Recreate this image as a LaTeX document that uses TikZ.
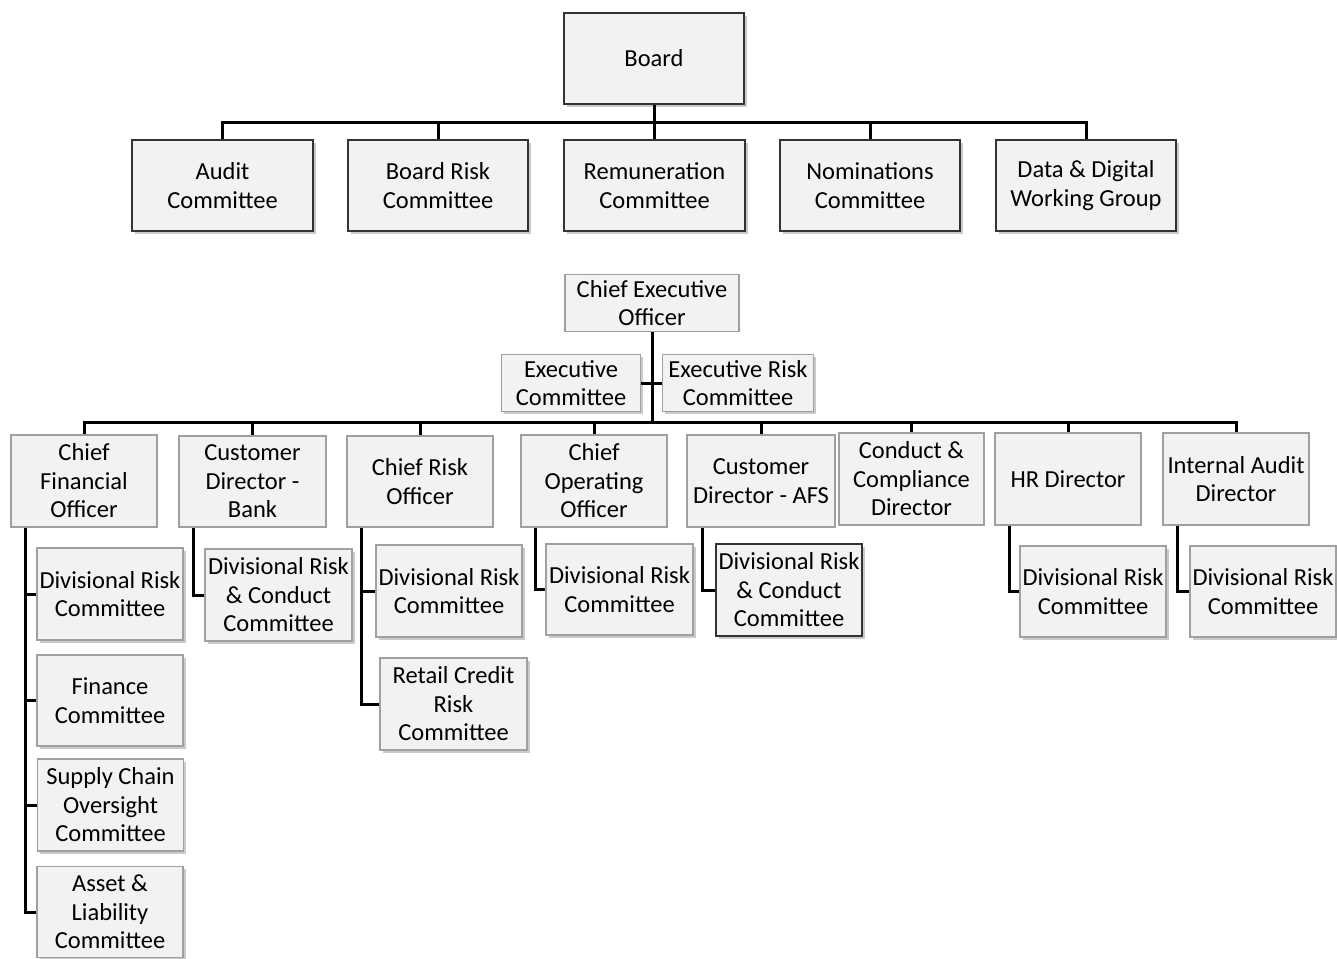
\documentclass[tikz,border=0pt]{standalone}
\usepackage{fontspec}
\setmainfont{Carlito}
\usetikzlibrary{shadows}
\definecolor{boxfill}{HTML}{F2F2F2}
\definecolor{thinline}{HTML}{A0A0A0}
\definecolor{thickline}{HTML}{333333}
\tikzset{
  basebox/.style={fill=boxfill, align=center, inner sep=0pt, font=\fontsize{24.5}{28.5}\selectfont, text=black},
  thinbox/.style={basebox, draw=thinline, line width=1.2pt},
  shbox/.style={thinbox, drop shadow={shadow xshift=2.5pt, shadow yshift=-2.5pt, opacity=0.35, fill=black!60}},
  thickbox/.style={basebox, draw=thickline, line width=2.6pt, drop shadow={shadow xshift=3pt, shadow yshift=-3pt, opacity=0.35, fill=black!60}},
  link/.style={draw=black, line width=3pt},
}
\newcommand{\bx}[6]{\node[#1, minimum width=#4pt, minimum height=#5pt] (#2) at (#3) {#6};}
\begin{document}
\begin{tikzpicture}[x=1pt,y=-1pt]
\useasboundingbox (0,0) rectangle (1337,958);
% top
\bx{thickbox}{board}{654,58.5}{180}{91}{Board}
\bx{thickbox}{audit}{222.5,185.5}{181}{91}{Audit\\Committee}
\bx{thickbox}{brc}{438,185.5}{180}{91}{Board Risk\\Committee}
\bx{thickbox}{rem}{654.5,185.5}{181}{91}{Remuneration\\Committee}
\bx{thickbox}{nom}{870,185.5}{180}{91}{Nominations\\Committee}
\bx{thickbox}{ddw}{1086,185.5}{180}{91}{Data \& Digital\\Working Group}
\coordinate (tb) at (654,122);
\draw[link] (board.south) -- (tb);
\draw[link] (audit.north) -- (audit.north |- tb) -- (ddw.north |- tb) -- (ddw.north);
\foreach \n in {brc,rem,nom} \draw[link] (\n.north) -- (\n.north |- tb);
% CEO
\bx{thinbox}{ceo}{652,303}{174}{57}{Chief Executive\\Officer}
\bx{shbox}{exco}{571,383}{139}{57}{Executive\\Committee}
\bx{shbox}{erc}{738,383}{151}{57}{Executive Risk\\Committee}
\coordinate (mb) at (652,422);
\draw[link] (ceo.south) -- (mb);
\draw[link] (exco.east) -- (erc.west);
% level 2
\bx{thinbox}{cfo}{84,481}{146}{92}{Chief\\Financial\\Officer}
\bx{thinbox}{cdb}{252.5,481.5}{147}{91}{Customer\\Director -\\Bank}
\bx{thinbox}{cro}{420,481.5}{146}{91}{Chief Risk\\Officer}
\bx{thinbox}{coo}{594,481}{146}{92}{Chief\\Operating\\Officer}
\bx{thinbox}{afs}{761,481}{148}{92}{Customer\\Director - AFS}
\bx{thinbox}{ccd}{911.5,479}{145}{92}{Conduct \&\\Compliance\\Director}
\bx{thinbox}{hr}{1068,479}{146}{92}{HR Director}
\bx{thinbox}{iad}{1236,479}{146}{92}{Internal Audit\\Director}
\draw[link] (cfo.north) -- (cfo.north |- mb) -- (iad.north |- mb) -- (iad.north);
\foreach \n in {cdb,cro,coo,afs,ccd,hr} \draw[link] (\n.north) -- (\n.north |- mb);
% children
\bx{shbox}{cfoa}{110,594}{146}{92}{Divisional Risk\\Committee}
\bx{shbox}{cfob}{110,700.5}{146}{91}{Finance\\Committee}
\bx{shbox}{cfoc}{110.5,805}{146}{92}{Supply Chain\\Oversight\\Committee}
\bx{shbox}{cfod}{110,912}{146}{91}{Asset \&\\Liability\\Committee}
\bx{shbox}{cdba}{278.5,595}{147}{92}{Divisional Risk\\\& Conduct\\Committee}
\bx{shbox}{croa}{449,591}{146}{92}{Divisional Risk\\Committee}
\bx{shbox}{crob}{453.5,704}{147}{92}{Retail Credit\\Risk\\Committee}
\bx{shbox}{cooa}{619.5,589.5}{147}{91}{Divisional Risk\\Committee}
\bx{thickbox}{afsa}{789,590}{146}{92}{Divisional Risk\\\& Conduct\\Committee}
\bx{shbox}{hra}{1093,591.5}{146}{91}{Divisional Risk\\Committee}
\bx{shbox}{iada}{1263,591.5}{146}{91}{Divisional Risk\\Committee}
\foreach \p/\c in {cfo/cfoa,cfo/cfob,cfo/cfoc,cfo/cfod,cdb/cdba,cro/croa,cro/crob,coo/cooa,hr/hra,iad/iada}
  \draw[link] ([xshift=15pt]\p.south west) |- (\c.west);
\draw[link] ([xshift=16.5pt]afs.south west) |- (afsa.west);
\end{tikzpicture}
\end{document}
